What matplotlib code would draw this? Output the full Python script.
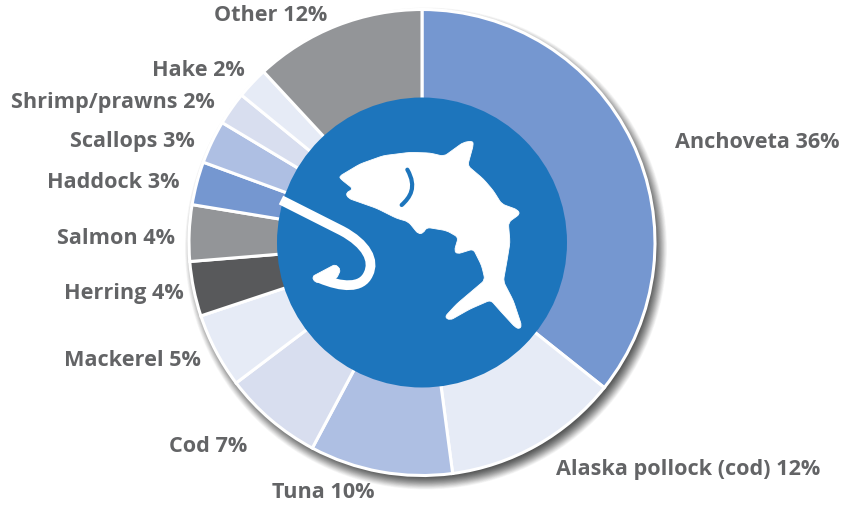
import matplotlib
matplotlib.use("Agg")
import matplotlib.pyplot as plt
from matplotlib.patches import Circle, PathPatch
from matplotlib.path import Path
import numpy as np

W, H = 844, 506
species = ["Anchoveta", "Alaska pollock (cod)", "Tuna", "Cod", "Mackerel", "Herring",
           "Salmon", "Haddock", "Scallops", "Shrimp/prawns", "Hake", "Other"]
labels_pct = [36, 12, 10, 7, 5, 4, 4, 3, 3, 2, 2, 12]
shares = [35.7, 12.2, 9.9, 6.9, 5.2, 3.8, 3.9, 3.0, 3.0, 2.3, 2.2, 11.9]
colors = ["#7597d0", "#e6ebf6", "#aebfe3", "#d8deef", "#e6ebf6", "#58595b",
          "#939598", "#7597d0", "#aebfe3", "#d8deef", "#e6ebf6", "#939598"]
label_x = [675, 556, 272, 169, 64, 64, 57, 47, 70, 11, 152, 214]
label_y = [142, 470, 493, 447, 360, 293, 238, 182, 142, 102, 70, 15]

CX, CY, R, RI = 422, H - 243.5, 233, 145

fig = plt.figure(figsize=(W / 100, H / 100), dpi=100)
ax = fig.add_axes([0, 0, 1, 1])

# soft drop shadow
for i in range(26):
    ax.add_patch(Circle((CX + 4, CY - 6), R + 8 - i * 0.6, fc="#303132", ec="none", alpha=0.035 + i * 0.003, zorder=1))

ax.pie(shares, colors=colors, startangle=90, counterclock=False, center=(CX, CY), radius=R,
       frame=True, wedgeprops=dict(edgecolor="white", linewidth=2.2, zorder=2))
ax.add_patch(Circle((CX, CY), RI, fc="#1d75bc", ec="none", zorder=3))
ax.set_xlim(0, W)
ax.set_ylim(0, H)
ax.set_aspect("equal")
ax.axis("off")


def z(px, py):
    """Icon outline point from the zoomed crop to figure pixels."""
    return (270 + px / 3, H - (120 + py / 3))


def rounded(points, cut):
    """Closed outline with rounded corners."""
    pts = np.array([z(*p) for p in points], float)
    n = len(pts)
    verts, codes = [], []
    for i in range(n):
        p, a, b = pts[i], pts[i - 1], pts[(i + 1) % n]
        d1, d2 = np.linalg.norm(a - p), np.linalg.norm(b - p)
        s = p + (a - p) * min(cut, 0.5 * d1) / d1
        e = p + (b - p) * min(cut, 0.5 * d2) / d2
        verts += [s, p, e]
        codes += [Path.MOVETO if i == 0 else Path.LINETO, Path.CURVE3, Path.CURVE3]
    verts.append(verts[0])
    codes.append(Path.CLOSEPOLY)
    return Path(verts, codes)


fish = [(208, 172), (270, 135), (340, 110), (420, 100), (480, 102), (522, 112), (580, 70), (608, 66),
        (610, 78), (593, 140), (640, 180), (670, 215), (695, 255), (742, 272), (750, 285), (715, 310),
        (720, 370), (712, 420), (700, 487), (730, 545), (755, 620), (748, 630), (735, 624), (690, 575),
        (662, 543), (600, 570), (540, 604), (524, 594), (560, 555), (645, 483), (635, 440), (610, 390),
        (562, 405), (553, 395), (565, 355), (530, 335), (470, 325), (460, 342), (445, 345), (415, 308),
        (380, 298), (320, 268), (235, 238), (227, 222), (250, 210), (212, 180)]
ax.add_patch(PathPatch(rounded(fish, 4), fc="white", ec="white", lw=0.6, zorder=4))

gill = Path([z(412, 152), z(442, 205), z(420, 235), z(395, 258)], [Path.MOVETO, Path.CURVE4, Path.CURVE4, Path.CURVE4])
ax.add_patch(PathPatch(gill, fc="none", ec="#1d75bc", lw=3, capstyle="round", zorder=5))

hook = Path([z(33, 243), z(215, 335), z(290, 375), z(315, 425), z(295, 465), z(275, 510), z(215, 505), z(150, 478)],
            [Path.MOVETO, Path.LINETO, Path.CURVE4, Path.CURVE4, Path.CURVE4, Path.CURVE4, Path.CURVE4, Path.CURVE4])
ax.add_patch(PathPatch(hook, fc="none", ec="white", lw=7, capstyle="butt", zorder=4))
barb = [(126, 473), (196, 436), (212, 452), (200, 478), (175, 492), (135, 490)]
ax.add_patch(PathPatch(rounded(barb, 3), fc="white", ec="white", lw=0.6, zorder=4))

for name, pct, x, y in zip(species, labels_pct, label_x, label_y):
    ax.text(x, H - y, f"{name} {pct}%", ha="left", va="center", fontsize=15.55,
            family="Open Sans", fontweight="bold", color="#636466", zorder=6)

fig.savefig("out.png", dpi=100, facecolor="white")
